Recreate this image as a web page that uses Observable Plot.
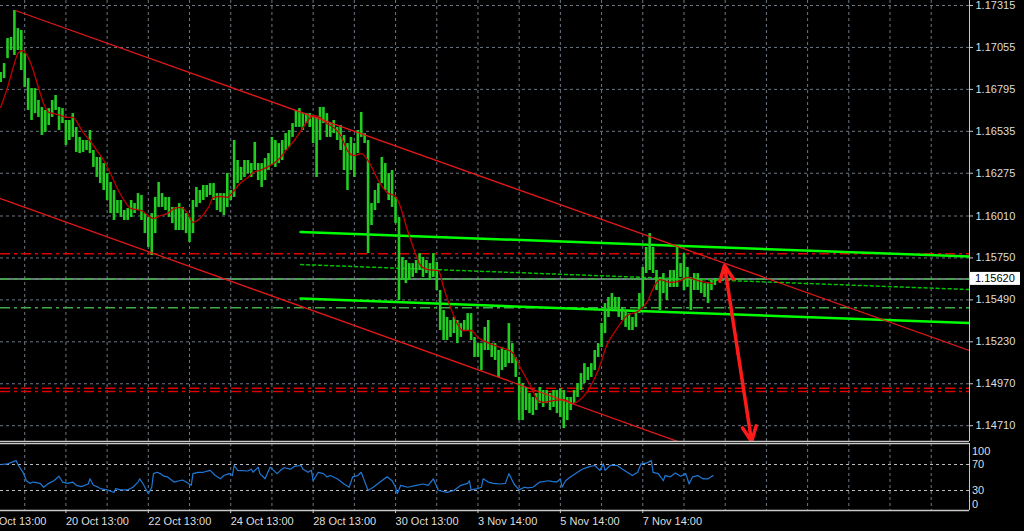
<!DOCTYPE html>
<html><head><meta charset="utf-8">
<script src="https://cdn.jsdelivr.net/npm/d3@7"></script>
<script src="https://cdn.jsdelivr.net/npm/@observablehq/plot@0.6"></script>
<style>
html,body{margin:0;padding:0;background:#000;}
#chart{width:1024px;height:531px;overflow:hidden;background:#000;}
#chart svg{display:block;}
</style></head><body><div id="chart"></div>
<script>
// ---- axis ticks / labels ----
const priceTicks = [1.17315,1.17055,1.16795,1.16535,1.16275,1.16010,1.15750,1.15490,1.15230,1.14970,1.14710];
const gridHours = [24,48,72,96,120,144,168,192,216,240,264,288,312,336,360,384,408,432,456,480,504,528,552];
const dateLabelHours = [0,48,96,144,192,240,288,336,384];
const dateLabels = ["16 Oct 13:00","20 Oct 13:00","22 Oct 13:00","24 Oct 13:00","28 Oct 13:00","30 Oct 13:00","3 Nov 14:00","5 Nov 14:00","7 Nov 14:00"];
const indLevels = [70,30];
const indScaleLabels = [100,70,30,0];
// time axis: trading hours since 16 Oct 13:00
const timeDomain = [9.9, 574.3];
const priceDomain = [1.14612, 1.17346];
const indDomain = [-0.77, 102.3];

// ---- 2-hour bars (high / low), first bar at hour 10 ----
const barStartHour = 10, barStepHours = 2;
const highs = [
1.16900,1.16955,1.17110,1.17117,1.17284,1.17172,1.17160,1.17017,1.16862,1.16800,
1.16800,1.16726,1.16683,1.16664,1.16676,1.16726,1.16757,1.16683,1.16676,1.16602,
1.16602,1.16645,1.16559,1.16497,1.16478,1.16478,1.16540,1.16416,1.16373,1.16373,
1.16335,1.16273,1.16218,1.16168,1.16106,1.16106,1.16044,1.16056,1.16106,1.16087,
1.16149,1.16137,1.16025,1.16001,1.16025,1.16125,1.16218,1.16149,1.16125,1.16125,
1.16063,1.16063,1.16087,1.16063,1.16025,1.16001,1.16106,1.16187,1.16168,1.16199,
1.16199,1.16211,1.16211,1.16149,1.16149,1.16149,1.16273,1.16168,1.16478,1.16354,
1.16311,1.16354,1.16354,1.16335,1.16466,1.16335,1.16335,1.16366,1.16397,1.16497,
1.16478,1.16459,1.16478,1.16521,1.16540,1.16583,1.16664,1.16676,1.16645,1.16645,
1.16645,1.16621,1.16621,1.16683,1.16683,1.16645,1.16583,1.16602,1.16559,1.16571,
1.16509,1.16459,1.16497,1.16459,1.16540,1.16652,1.16521,1.16478,1.16087,1.16168,
1.16211,1.16373,1.16335,1.16273,1.16292,1.16125,1.16001,1.15753,1.15734,1.15715,
1.15715,1.15734,1.15777,1.15753,1.15734,1.15715,1.15777,1.15722,1.15548,1.15424,
1.15381,1.15362,1.15381,1.15362,1.15343,1.15362,1.15405,1.15405,1.15257,1.15219,
1.15219,1.15319,1.15362,1.15219,1.15219,1.15176,1.15195,1.15176,1.15343,1.15219,
1.15133,1.15009,1.14971,1.14947,1.14909,1.14885,1.14909,1.14947,1.14928,1.14928,
1.14909,1.14928,1.14928,1.14940,1.14928,1.14885,1.14885,1.14928,1.14971,1.15033,
1.15095,1.15071,1.15095,1.15176,1.15219,1.15343,1.15467,1.15505,1.15529,1.15505,
1.15505,1.15443,1.15424,1.15405,1.15381,1.15424,1.15529,1.15691,1.15815,1.15901,
1.15815,1.15672,1.15629,1.15653,1.15610,1.15672,1.15672,1.15821,1.15715,1.15777,
1.15691,1.15629,1.15653,1.15653,1.15610,1.15591,1.15591,1.15610,1.15622];
const lows = [
1.16838,1.16862,1.16986,1.17036,1.17005,1.17036,1.16912,1.16807,1.16664,1.16602,
1.16645,1.16621,1.16509,1.16528,1.16571,1.16621,1.16664,1.16540,1.16583,1.16447,
1.16478,1.16497,1.16404,1.16397,1.16404,1.16416,1.16397,1.16311,1.16249,1.16211,
1.16168,1.16106,1.16025,1.15982,1.16025,1.16001,1.15982,1.15982,1.16001,1.16025,
1.16044,1.15982,1.15901,1.15815,1.15765,1.15901,1.16063,1.16063,1.16044,1.16001,
1.15963,1.15920,1.15920,1.15920,1.15901,1.15846,1.15901,1.16063,1.16087,1.16106,
1.16125,1.16137,1.16106,1.16044,1.16032,1.16013,1.16063,1.16106,1.16125,1.16211,
1.16230,1.16249,1.16273,1.16249,1.16292,1.16230,1.16187,1.16230,1.16292,1.16323,
1.16311,1.16335,1.16354,1.16416,1.16435,1.16497,1.16559,1.16559,1.16540,1.16583,
1.16559,1.16459,1.16249,1.16478,1.16583,1.16497,1.16497,1.16521,1.16478,1.16416,
1.16292,1.16168,1.16292,1.16249,1.16397,1.16497,1.16459,1.15777,1.15951,1.16044,
1.16087,1.16211,1.16168,1.16106,1.16063,1.15963,1.15486,1.15610,1.15591,1.15610,
1.15629,1.15653,1.15672,1.15629,1.15653,1.15610,1.15629,1.15548,1.15300,1.15238,
1.15238,1.15257,1.15281,1.15219,1.15257,1.15300,1.15300,1.15238,1.15133,1.15133,
1.15052,1.15176,1.15176,1.15133,1.15114,1.15009,1.15052,1.15071,1.15095,1.15095,
1.15009,1.14742,1.14742,1.14804,1.14785,1.14773,1.14804,1.14847,1.14823,1.14847,
1.14804,1.14823,1.14785,1.14761,1.14692,1.14742,1.14804,1.14847,1.14885,1.14928,
1.14971,1.14990,1.15009,1.15052,1.15133,1.15195,1.15281,1.15381,1.15424,1.15424,
1.15381,1.15362,1.15319,1.15300,1.15300,1.15319,1.15405,1.15443,1.15653,1.15672,
1.15653,1.15548,1.15424,1.15529,1.15486,1.15567,1.15567,1.15567,1.15629,1.15548,
1.15567,1.15424,1.15548,1.15548,1.15529,1.15505,1.15467,1.15548,1.15579];

// ---- moving average ----
const maHours = [10,14,18,20,23,26,29,32,35,38,41,45,49,52,55,58,62,66,70,74,
78,82,86,92,96,99,103,107,111,115,119,122,126,131,134,138,142,146,150,154,
157,161,165,169,173,177,181,185,189,192,196,200,204,208,212,216,220,224,230,235,
240,243,247,251,255,259,265,268,272,276,279,284,288,295,301,308,313,319,323,326,
332,338,343,347,352,358,363,369,375,381,387,390,394,400,406,410,416,421,425];
const maValues = [1.16683,1.16807,1.16955,1.17017,1.17036,1.16993,1.16912,1.16807,1.16707,1.16652,
1.16645,1.16633,1.16621,1.16621,1.16583,1.16528,1.16478,1.16416,1.16354,1.16273,
1.16180,1.16106,1.16056,1.16044,1.16013,1.15994,1.16013,1.16025,1.16056,1.16063,
1.16025,1.15970,1.15994,1.16063,1.16125,1.16131,1.16125,1.16168,1.16218,1.16249,
1.16280,1.16292,1.16311,1.16335,1.16373,1.16428,1.16478,1.16540,1.16602,1.16633,
1.16621,1.16583,1.16559,1.16509,1.16416,1.16385,1.16397,1.16354,1.16230,1.16156,
1.16131,1.16063,1.15920,1.15796,1.15697,1.15678,1.15672,1.15567,1.15443,1.15343,
1.15300,1.15300,1.15257,1.15219,1.15195,1.15164,1.15064,1.14947,1.14866,1.14854,
1.14866,1.14872,1.14847,1.14866,1.14928,1.15052,1.15207,1.15312,1.15393,1.15418,
1.15486,1.15560,1.15616,1.15598,1.15610,1.15629,1.15610,1.15598,1.15591];

// ---- oscillator (0-100) ----
const indHours = [10,14,19,20,23,25,27,29,33,35,38,41,44,46,49,52,54,57,61,62,
64,66,68,72,76,77,80,84,87,90,91,93,95,96,98,99,101,103,105,107,
111,114,116,118,121,122,125,128,132,135,138,140,143,145,146,148,154,156,157,160,
161,164,167,169,171,173,175,179,181,185,186,189,191,192,195,198,200,202,206,210,
213,215,218,220,221,224,227,231,235,238,240,241,243,247,252,256,259,262,265,270,
274,278,282,283,284,288,290,291,294,297,301,304,306,309,312,315,317,320,324,329,
331,334,336,337,339,342,346,349,352,356,359,361,362,365,369,372,375,378,381,383,
386,389,390,393,396,397,400,403,406,409,411,413,416,419,422,425];
const indValues = [70,71,76,70,58,45,41,43,41,35,41,45,52,43,41,43,38,36,40,48,
38,36,33,31,27,33,31,31,35,43,48,40,30,25,35,56,58,56,52,51,
43,45,46,43,38,56,58,58,61,53,48,53,56,53,68.5,61,60,63,58,66,
56,48,66,61,56,61,65,63,67,68.5,63,58,61,45,58,56,51,53,48,40,
35,51,53,58,51,30,35,43,51,45,35,25,38,35,38,40,38,48,30,27,
30,38,41,45,31,33,35,48,43,41,40,41,56,40,31,35,34,35,43,45,
44,43,48,35,45,51,58,63,66,68.5,61,71,61,68.5,68.5,63,58,53,58,71,
72,76,58,56,45,53,51,57,52,56,40,51,53,48,48,53];

// ---- drawn objects ----
const upperChannel = [[18.6, 1.17284], [574.3, 1.15176]];
const lowerChannel = [[9.9, 1.16118], [406.0, 1.14606]];
const upperGreen = [[184.7, 1.15911], [574.3, 1.15759]];
const middleGreen = [[184.7, 1.15709], [574.3, 1.15554]];
const lowerGreen = [[184.7, 1.15498], [574.3, 1.15347]];
const redLevels = [1.15776, 1.14942, 1.14922];
const greenLevels = [1.15620, 1.15441];
const currentPrice = 1.15620;
const arrowTop = [431.6, 1.15703];
const arrowBottom = [447.4, 1.14612];

// ---- build ----
const bars = highs.map((h, i) => ({t: barStartHour + barStepHours * i, high: h, low: lows[i]}));
const ma = maHours.map((t, i) => ({t, v: maValues[i]}));
const ind = indHours.map((t, i) => ({t, v: indValues[i]}));
const mid = [(arrowTop[0] + arrowBottom[0]) / 2, (arrowTop[1] + arrowBottom[1]) / 2];
const arrows = [
  {x1: mid[0], y1: mid[1], x2: arrowTop[0], y2: arrowTop[1]},
  {x1: mid[0], y1: mid[1], x2: arrowBottom[0], y2: arrowBottom[1]}
];
const gridCol = "#6c7783";
const borderCol = "#c8c8c8";
const textCol = "#dedede";
const font = "'Liberation Sans', Arial, sans-serif";
const baseStyle = {background: "#000", color: textCol, fontFamily: font, fontSize: "11px"};
const P = d => d[0], V = d => d[1];

const main = Plot.plot({
  width: 1024, height: 442,
  marginLeft: 0, marginRight: 55, marginTop: 0, marginBottom: 1,
  style: baseStyle,
  x: {domain: timeDomain, axis: null},
  y: {domain: priceDomain, axis: null},
  marks: [
    Plot.ruleY(priceTicks, {stroke: gridCol, strokeDasharray: "3,3"}),
    Plot.ruleX(gridHours, {stroke: gridCol, strokeDasharray: "3,3"}),
    Plot.ruleY([currentPrice], {stroke: "#8d9ba6", strokeWidth: 1.5}),
    Plot.ruleY(redLevels, {stroke: "#e00000", strokeWidth: 1.5, strokeDasharray: "10,4,3,4"}),
    Plot.ruleY(greenLevels, {stroke: "#3fae46", strokeWidth: 1.5, strokeDasharray: "10,4,3,4"}),
    Plot.line(middleGreen, {x: P, y: V, stroke: "#00c000", strokeWidth: 1.5, strokeDasharray: "3,3", clip: true}),
    Plot.line(upperGreen, {x: P, y: V, stroke: "#00ff00", strokeWidth: 2.5, clip: true}),
    Plot.line(lowerGreen, {x: P, y: V, stroke: "#00ff00", strokeWidth: 2.5, clip: true}),
    Plot.ruleX(bars, {x: "t", y1: "low", y2: "high", stroke: "#22cc22", strokeWidth: 2.6}),
    Plot.line(ma, {x: "t", y: "v", stroke: "#c00000", strokeWidth: 1.3, curve: "monotone-x"}),
    Plot.line(upperChannel, {x: P, y: V, stroke: "#e01818", strokeWidth: 1.3, clip: true}),
    Plot.line(lowerChannel, {x: P, y: V, stroke: "#e01818", strokeWidth: 1.3, clip: true}),
    Plot.arrow(arrows, {x1: "x1", y1: "y1", x2: "x2", y2: "y2", stroke: "#ff1a1a", strokeWidth: 3.5, headLength: 7, headAngle: 50}),
    Plot.axisY({anchor: "right", ticks: priceTicks, tickFormat: d3.format(".5f"), tickSize: 3, tickPadding: 3, stroke: borderCol, fill: textCol, label: null}),
    Plot.ruleX([timeDomain[1]], {stroke: borderCol}),
    Plot.ruleY([priceDomain[0]], {stroke: borderCol, strokeWidth: 1.5})
  ]
});

const indicator = Plot.plot({
  width: 1024, height: 89,
  marginLeft: 0, marginRight: 55, marginTop: 1, marginBottom: 21,
  style: baseStyle,
  x: {domain: timeDomain, axis: null},
  y: {domain: indDomain, axis: null},
  marks: [
    Plot.ruleX(gridHours, {stroke: gridCol, strokeDasharray: "3,3"}),
    Plot.ruleY(indLevels, {stroke: "#bfbfbf", strokeDasharray: "3,3"}),
    Plot.line(ind, {x: "t", y: "v", stroke: "#1f78d6", strokeWidth: 1.2}),
    Plot.ruleY([indDomain[1]], {stroke: borderCol, strokeWidth: 1.5}),
    Plot.ruleY([indDomain[0]], {stroke: borderCol, strokeWidth: 1.5}),
    Plot.ruleX([timeDomain[1]], {stroke: borderCol}),
    Plot.axisX({ticks: dateLabelHours.filter(h => h >= timeDomain[0]), tickSize: 3, tickFormat: () => "", stroke: borderCol, label: null}),
    Plot.text(dateLabelHours, {x: d => d, text: (d, i) => dateLabels[i], frameAnchor: "bottom", lineAnchor: "middle", dy: 11, textAnchor: "start", fill: textCol})
  ]
});

const host = document.getElementById("chart");
host.appendChild(main);
host.appendChild(indicator);

function scaleY(chart, v, fallback) {
  const s = chart.scale("y");
  return s && s.apply ? s.apply(v) : fallback(v);
}

// oscillator scale labels on the right
const gi = d3.select(indicator).append("g")
  .attr("font-family", font).attr("font-size", "11px").attr("fill", textCol).attr("text-anchor", "start");
indScaleLabels.forEach(v => {
  const y = scaleY(indicator, v, u => 1 + (indDomain[1] - u) / (indDomain[1] - indDomain[0]) * 67);
  const shift = v === 100 ? 6.5 : v === 0 ? -5.5 : 0;
  gi.append("text").attr("x", 972).attr("y", y + shift).attr("dy", "0.35em").text(String(v));
});

// current price tag on the price axis
const yy = scaleY(main, currentPrice, u => (priceDomain[1] - u) / (priceDomain[1] - priceDomain[0]) * 441);
const g = d3.select(main).append("g");
g.append("rect").attr("x", 970).attr("y", yy - 6.5).attr("width", 50).attr("height", 13).attr("fill", "#ffffff");
g.append("text").attr("x", 975).attr("y", yy).attr("dy", "0.35em").attr("fill", "#000")
  .attr("text-anchor", "start").attr("font-family", font).attr("font-size", "11px")
  .text(d3.format(".5f")(currentPrice));
</script>
</body></html>
